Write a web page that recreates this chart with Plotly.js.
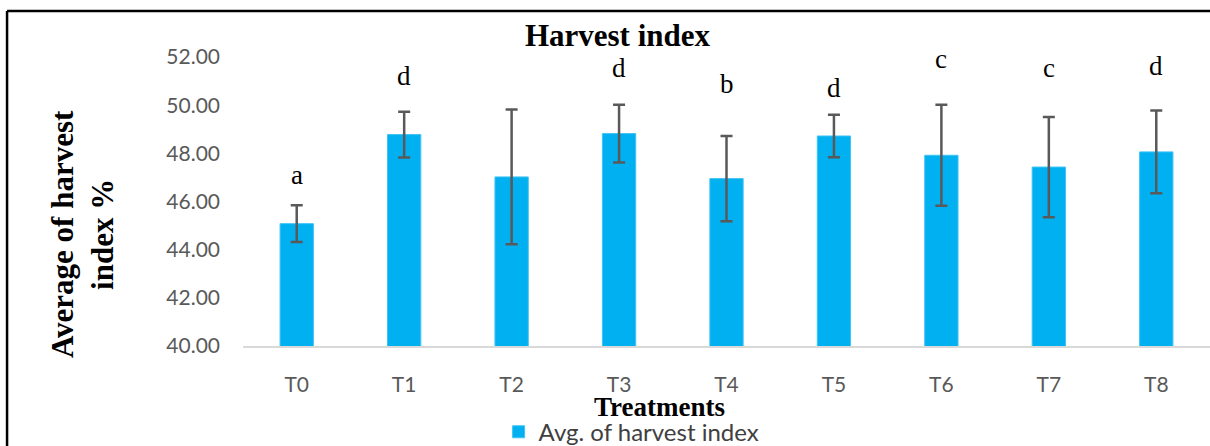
<!DOCTYPE html>
<html>
<head>
<meta charset="utf-8">
<script src="https://cdn.plot.ly/plotly-3.0.1.min.js"></script>
<style>html,body{margin:0;padding:0;background:#fff;}#chart{width:1210px;height:446px;}</style>
</head>
<body>
<div id="chart"></div>
<script>
var treatments = ['T0','T1','T2','T3','T4','T5','T6','T7','T8'];
var harvestIndex = [45.08, 48.78, 47.02, 48.82, 46.95, 48.72, 47.92, 47.43, 48.06];
var errorValues = [0.76, 0.95, 2.80, 1.20, 1.77, 0.88, 2.10, 2.08, 1.72];
var groupLetters = ['a','d','b','d','b','d','c','c','d'];
var letterLevel = [47.12, 51.22, 52.1, 51.56, 50.87, 50.73, 51.9, 51.53, 51.63];
var yTicks = [40, 42, 44, 46, 48, 50, 52];

var trace = {
  type: 'bar',
  x: treatments,
  y: harvestIndex,
  name: 'Avg. of harvest index',
  marker: {color: '#00B0F0', line: {color: '#3fc3f3', width: 1}},
  width: 0.31,
  error_y: {type: 'data', array: errorValues, visible: true, color: '#595959', thickness: 2.5, width: 6},
  showlegend: true
};

var annotations = treatments.map(function(t, i) {
  return {x: t, y: letterLevel[i], xref: 'x', yref: 'y', text: groupLetters[i], showarrow: false,
    yanchor: 'middle', font: {family: 'Liberation Serif', size: 27, color: '#000'}};
});
annotations.push({xref: 'paper', yref: 'paper', x: 0.431, y: -0.2095, text: '<b>Treatments</b>', showarrow: false,
  xanchor: 'center', yanchor: 'middle', font: {family: 'Liberation Serif', size: 27, color: '#000'}});
annotations.push({xref: 'paper', yref: 'paper', x: -0.1665, y: 0.3875, text: '<b>Average of harvest<br>index %</b>', showarrow: false,
  textangle: -90, xanchor: 'center', yanchor: 'middle', font: {family: 'Liberation Serif', size: 31, color: '#000'}});

var layout = {
  width: 1210, height: 446,
  margin: {l: 243, r: 0, t: 57, b: 100, autoexpand: false},
  paper_bgcolor: '#fff', plot_bgcolor: '#fff',
  title: {text: '<b>Harvest index</b>', xref: 'container', yref: 'container', x: 0.5103, y: 0.9215,
    xanchor: 'center', yanchor: 'middle', font: {family: 'Liberation Serif', size: 31, color: '#000'}},
  xaxis: {type: 'category', range: [-0.5, 8.5], showline: true, linecolor: '#d9d9d9', linewidth: 1.5,
    showgrid: false, zeroline: false, ticks: '', ticklabelstandoff: 19, automargin: false,
    tickfont: {family: 'Lato', size: 21, color: '#595959'}},
  yaxis: {range: [40, 52], tickvals: yTicks, tickformat: '.2f', showline: false, showgrid: false, zeroline: false,
    ticks: '', ticklabelstandoff: 22, automargin: false, tickfont: {family: 'Lato', size: 21, color: '#595959'}},
  showlegend: true,
  legend: {orientation: 'h', xref: 'container', yref: 'container', x: 0.522, y: 0.031, xanchor: 'center', yanchor: 'middle',
    font: {family: 'Lato', size: 24, color: '#404040'}, bgcolor: 'rgba(0,0,0,0)', itemwidth: 30},
  annotations: annotations,
  shapes: [
    {type: 'line', xref: 'paper', yref: 'paper', x0: -0.2440, x1: -0.2440, y0: -0.36, y1: 1.159, line: {color: '#000', width: 2.5}},
    {type: 'line', xref: 'paper', yref: 'paper', x0: -0.2440, x1: 1.01, y0: 1.159, y1: 1.159, line: {color: '#000', width: 2.5}}
  ]
};

Plotly.newPlot('chart', [trace], layout, {displayModeBar: false, staticPlot: true});
</script>
</body>
</html>
